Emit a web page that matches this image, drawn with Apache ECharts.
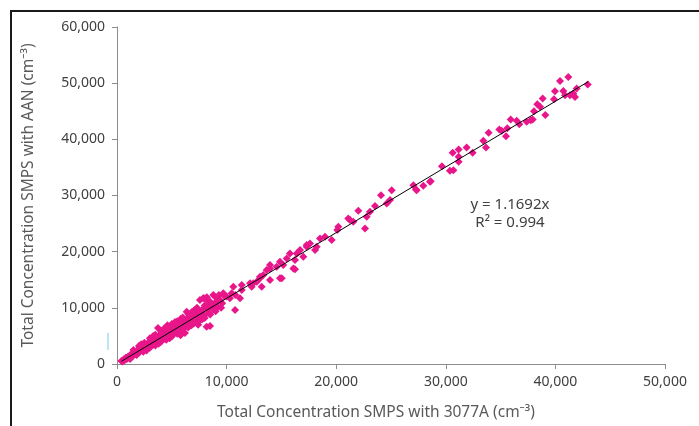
<!DOCTYPE html>
<html>
<head>
<meta charset="utf-8">
<script src="https://cdn.jsdelivr.net/npm/echarts@6/dist/echarts.min.js"></script>
<style>
  html, body { margin: 0; padding: 0; background: #fff; }
  #chart { width: 699px; height: 426px; }
</style>
</head>
<body>
<div id="chart"></div>
<script>
// axis ticks
const xTicks = [0, 10000, 20000, 30000, 40000, 50000];
const yTicks = [0, 10000, 20000, 30000, 40000, 50000, 60000];

// regression shown on the chart
const slope = 1.1692;
const rSquared = 0.994;
const fitRange = [400, 43000];

// dense cluster, below ~12,000
const lowPoints = [
  [400, 520], [500, 450], [600, 780], [700, 650], [800, 1100], [900, 880],
  [1000, 1300], [1100, 1150], [1200, 1600], [1250, 1500], [1300, 1350], [1400, 1850],
  [1500, 1500], [1600, 2100], [1700, 1800], [1750, 2000], [1800, 2350], [1900, 2000],
  [2000, 2650], [2100, 2200], [2200, 2900], [2250, 2650], [2300, 2450], [2400, 3150],
  [2500, 2600], [2600, 3400], [2700, 2850], [2750, 3200], [2800, 3700], [2900, 3000],
  [3000, 3900], [3100, 3250], [3200, 4200], [3250, 3800], [3300, 3450], [3400, 4500],
  [3500, 3700], [3600, 4700], [3700, 3900], [3750, 4400], [3800, 5000], [3900, 4100],
  [4000, 5300], [4100, 4300], [4200, 5600], [4250, 4950], [4300, 4500], [4400, 5800],
  [4500, 4700], [4600, 6000], [4700, 5000], [4750, 5600], [4800, 6300], [4900, 5200],
  [5000, 6500], [5100, 5400], [5200, 6800], [5250, 6100], [5300, 5600], [5400, 7000],
  [5500, 5900], [5600, 7200], [5700, 6100], [5750, 6700], [5800, 7500], [5900, 6300],
  [6000, 7700], [6100, 6500], [6200, 7900], [6250, 7300], [6300, 6800], [6400, 8100],
  [6500, 7000], [6600, 8400], [6700, 7200], [6750, 7900], [6800, 8600], [6900, 7400],
  [7000, 8800], [7200, 7700], [7250, 8500], [7400, 9300], [7600, 8200], [7750, 9000],
  [7800, 9700], [8000, 8700], [8200, 10200], [8250, 9700], [8400, 9100], [8600, 10600],
  [8750, 10200], [8800, 9700], [9000, 11000], [9200, 10200], [9400, 11400], [9600, 10800],
  [3900, 5200], [4600, 6900], [5800, 5100], [6200, 5500], [7400, 7000], [7100, 9600],
  [8200, 11900], [7870, 11690], [8490, 10500], [8490, 6760], [10770, 9610],
  [9800, 12100], [10000, 12000], [10300, 11700], [10800, 12300], [11220, 11690]
];

// wider spread around the cluster
const lowSpread = [
  [1500, 2500], [2000, 3200], [2200, 3500], [2500, 3800], [3000, 4600], [3300, 5000],
  [3500, 5200], [3740, 6400], [4000, 5900], [4300, 6300], [4500, 6500], [5000, 7100],
  [5300, 7500], [5500, 7600], [5800, 8000], [6000, 8300], [6360, 9300], [6500, 8900],
  [6800, 9200], [7000, 9500], [7300, 10000], [7570, 11380], [8000, 10400], [8300, 11200],
  [8500, 11100], [9000, 11900], [9300, 12300],
  [1200, 900], [1800, 1600], [2400, 2200], [2700, 2400], [3000, 2900], [3500, 3300],
  [3800, 3600], [4000, 3900], [4500, 4300], [4800, 4600], [5000, 4900], [5500, 5400],
  [5750, 5510], [6000, 6100], [6500, 6500], [6800, 6900], [7000, 7200], [7500, 7600],
  [7800, 8000], [8000, 8200], [8180, 6640], [8500, 8800], [9000, 9400], [9500, 10000]
];

// 10,000 to 25,000
const midPoints = [
  [7940, 11690], [8790, 12280], [9700, 12580], [10460, 12580], [10610, 13750],
  [11380, 13160], [11380, 14050], [12140, 14360], [12290, 13750], [12440, 14360],
  [12750, 14640], [13050, 15250], [13050, 15530], [13200, 13750], [13350, 15830],
  [13660, 16720], [13960, 17020], [13960, 14940], [13960, 17610], [14570, 17310],
  [14870, 18200], [14870, 15250], [15030, 15250], [15170, 17610], [15480, 18800],
  [15780, 19690], [16090, 17020], [16240, 18500], [16240, 16850], [16400, 19690],
  [16700, 20280], [17000, 19090], [17310, 20870], [17310, 21170], [17610, 21470],
  [18070, 20280], [18220, 20870], [18520, 22360], [18980, 22650], [19590, 22060],
  [20100, 23840], [20190, 24430], [21100, 25920], [21260, 25620], [21560, 25320],
  [22020, 27270], [22630, 24140], [22780, 26200], [23080, 27090], [23540, 28110],
  [24090, 30060], [24610, 28580], [24910, 29180], [25060, 30950]
];

// above 25,000
const highPoints = [
  [27040, 31840], [27280, 31080], [27340, 30950], [27950, 31720], [28560, 32430],
  [28620, 32550], [29650, 35220], [30380, 34390], [30690, 34510], [30630, 37590],
  [31170, 38190], [31170, 36880], [31170, 35990], [31900, 38540], [32450, 37590],
  [33420, 39730], [33670, 38540], [33910, 41150], [34880, 41750], [35100, 41510],
  [35490, 40560], [35610, 41980], [35920, 43530], [36470, 43290], [36710, 42700],
  [37380, 43110], [37750, 43410], [37930, 43530], [38050, 45010], [38350, 46250],
  [38600, 45780], [38840, 47270], [39080, 44350], [39870, 47140], [39960, 48570],
  [40420, 50400], [40720, 48620], [40880, 47850], [41180, 51110], [41330, 47850],
  [41630, 48150], [41790, 47550], [41940, 49040], [42950, 49750]
];

const chart = echarts.init(document.getElementById("chart"), null, { renderer: "canvas" });

const fmt = (v) => echarts.format.addCommas(v);
const labelColor = "#404040";
const fontFamily = "'Noto Sans', 'Open Sans', sans-serif";

const option = {
  animation: false,
  grid: { left: 117, right: 34, top: 27, bottom: 62 },
  xAxis: {
    type: "value",
    min: xTicks[0],
    max: xTicks[xTicks.length - 1],
    interval: xTicks[1] - xTicks[0],
    splitLine: { show: false },
    axisLine: { lineStyle: { color: "#8c8c8c" } },
    axisTick: { show: true, length: 5, lineStyle: { color: "#8c8c8c" } },
    axisLabel: { color: labelColor, fontSize: 14, fontFamily: fontFamily, margin: 11, formatter: fmt },
  },
  yAxis: {
    type: "value",
    min: yTicks[0],
    max: yTicks[yTicks.length - 1],
    interval: yTicks[1] - yTicks[0],
    splitLine: { show: false },
    axisLine: { show: true, lineStyle: { color: "#8c8c8c" } },
    axisTick: { show: true, length: 5, lineStyle: { color: "#8c8c8c" } },
    axisLabel: { color: labelColor, fontSize: 14, fontFamily: fontFamily, margin: 12, formatter: fmt },
    name: "Total Concentration SMPS with AAN (cm⁻³)",
    nameLocation: "middle",
    nameGap: 80,
    nameTextStyle: { color: "#595959", fontSize: 15.5, fontFamily: fontFamily },
  },
  series: [
    {
      type: "scatter",
      symbol: "diamond",
      symbolSize: 8,
      itemStyle: { color: "#e8168a", opacity: 1 },
      data: lowPoints.concat(lowSpread, midPoints, highPoints),
      z: 2,
    },
    {
      // linear trendline through the origin
      type: "line",
      data: fitRange.map((x) => [x, x * slope]),
      symbol: "none",
      lineStyle: { color: "#000", width: 1 },
      z: 3,
    },
  ],
  graphic: [
    {
      type: "rect",
      shape: { x: 11, y: 11, width: 720, height: 440 },
      style: { fill: "none", stroke: "#1a1a1a", lineWidth: 2 },
    },
    {
      type: "line",
      shape: { x1: 108, y1: 333, x2: 108, y2: 350 },
      style: { stroke: "#a6dcf2", lineWidth: 1.5 },
    },
    {
      // x axis title, centred on the chart area as in the source
      type: "text",
      x: 376,
      y: 413,
      style: {
        text: "Total Concentration SMPS with 3077A (cm⁻³)",
        fill: "#595959",
        font: "15.5px " + fontFamily,
        align: "center",
        verticalAlign: "middle",
      },
    },
    {
      type: "text",
      x: 510,
      y: 214,
      style: {
        text: "y = " + slope + "x\nR² = " + rSquared,
        fill: labelColor,
        font: "15px " + fontFamily,
        align: "center",
        verticalAlign: "middle",
        lineHeight: 18,
      },
    },
  ],
};

chart.setOption(option);
</script>
</body>
</html>
